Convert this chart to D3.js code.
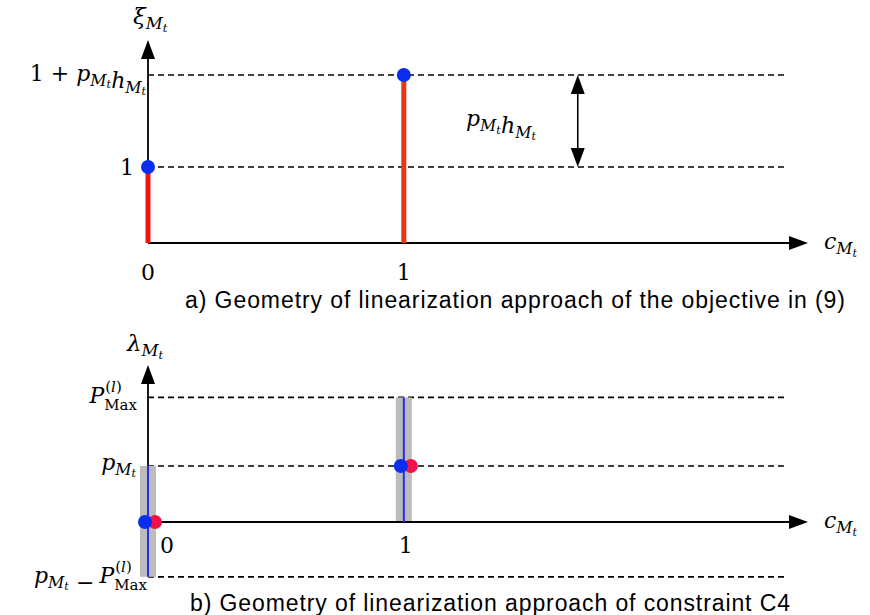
<!DOCTYPE html>
<html>
<head>
<meta charset="utf-8">
<script src="https://cdn.jsdelivr.net/npm/d3@7"></script>
<style>
body { margin: 0; background: #fff; }
.math { font-family: "DejaVu Serif", "Liberation Serif", serif; font-style: italic; }
.rm { font-family: "DejaVu Serif", "Liberation Serif", serif; font-style: normal; }
.cap { font-family: "Liberation Sans", Arial, sans-serif; font-size: 23px; }
</style>
</head>
<body>
<script>
// panel a: stems at c = 0 and c = 1
var aCats = [0, 1];
var aLevels = [1, 2.21];          // 1 and 1 + p h
var aXMax = 2.58, aYMax = 2.67;

// panel b: vertical ranges at c = 0 and c = 1
var bCats = [0, 1];
var bLow = [-0.44, 0];            // p - P, 0
var bHigh = [0.45, 1];            // p, P_Max
var bDots = [0, 0.45];            // where the blue/red dots sit
var bLevels = [1, 0.45, -0.44];   // dashed lines: P_Max, p, p - P
var bXMax = 2.58, bYMax = 1.26;

var svg = d3.select("body").append("svg")
    .attr("width", 870).attr("height", 615);

function arrowUp(g, x, y) {
    g.append("path").attr("d", "M" + x + "," + y + " L" + (x - 7) + "," + (y + 19) + " L" + (x + 7) + "," + (y + 19) + "Z")
        .attr("fill", "#000");
}
function arrowDown(g, x, y) {
    g.append("path").attr("d", "M" + x + "," + y + " L" + (x - 7) + "," + (y - 19) + " L" + (x + 7) + "," + (y - 19) + "Z")
        .attr("fill", "#000");
}
function arrowRight(g, x, y) {
    g.append("path").attr("d", "M" + x + "," + y + " L" + (x - 19) + "," + (y - 7) + " L" + (x - 19) + "," + (y + 7) + "Z")
        .attr("fill", "#000");
}
// write "base_{M_t}" style labels
function sub(t, base, s) {
    t.append("tspan").text(base);
    t.append("tspan").attr("font-size", "0.72em").attr("dy", "0.3em").text("M");
    t.append("tspan").attr("font-size", "0.5em").attr("dy", "0.25em").text(s || "t");
    t.append("tspan").attr("font-size", "1px").attr("dy", "-0.55em").text(" ");
}
// P^(l)_Max, right edge at xr, baseline y; returns left edge
function pmax(g, xr, y) {
    var m = g.append("text").attr("class", "rm").attr("font-size", 15).attr("text-anchor", "end")
        .attr("x", xr).attr("y", y + 7).text("Max");
    var xs = xr - m.node().getComputedTextLength();
    var s = g.append("text").attr("class", "math").attr("font-size", 15).attr("x", xs + 1).attr("y", y - 11);
    s.append("tspan").attr("class", "rm").text("(");
    s.append("tspan").text("l");
    s.append("tspan").attr("class", "rm").text(")");
    var p = g.append("text").attr("class", "math").attr("font-size", 22).attr("text-anchor", "end")
        .attr("x", xs).attr("y", y).text("P");
    return xs - p.node().getComputedTextLength();
}

// ---------- panel a ----------
var xa = d3.scaleLinear().domain([0, aXMax]).range([148, 808]);
var ya = d3.scaleLinear().domain([0, aYMax]).range([243, 40]);
var ga = svg.append("g");

ga.selectAll(".dash").data(aLevels).enter().append("line")
    .attr("x1", xa(0)).attr("x2", xa(2.5))
    .attr("y1", function(d) { return ya(d); }).attr("y2", function(d) { return ya(d); })
    .attr("stroke", "#000").attr("stroke-width", 1.6).attr("stroke-dasharray", "6,4");

ga.append("line").attr("x1", xa(0)).attr("x2", xa(aXMax) - 5).attr("y1", ya(0)).attr("y2", ya(0))
    .attr("stroke", "#000").attr("stroke-width", 1.8);
ga.append("line").attr("x1", xa(0)).attr("x2", xa(0)).attr("y1", ya(0)).attr("y2", ya(aYMax) + 5)
    .attr("stroke", "#000").attr("stroke-width", 1.8);
arrowRight(ga, xa(aXMax), ya(0));
arrowUp(ga, xa(0), ya(aYMax));

ga.selectAll(".stem").data(aCats).enter().append("line")
    .attr("x1", function(d) { return xa(d); }).attr("x2", function(d) { return xa(d); })
    .attr("y1", ya(0)).attr("y2", function(d, i) { return ya(aLevels[i]); })
    .attr("stroke", function(d, i) { return i == 0 ? "#f01414" : "#e8360f"; }).attr("stroke-width", 5);
ga.selectAll(".dot").data(aCats).enter().append("circle")
    .attr("cx", function(d) { return xa(d); }).attr("cy", function(d, i) { return ya(aLevels[i]); })
    .attr("r", 7).attr("fill", "#0a2ef0");

// double arrow p h
var dx = xa(1.68);
ga.append("line").attr("x1", dx).attr("x2", dx).attr("y1", ya(aLevels[1]) + 10).attr("y2", ya(aLevels[0]) - 10)
    .attr("stroke", "#000").attr("stroke-width", 1.6);
arrowUp(ga, dx, ya(aLevels[1]));
arrowDown(ga, dx, ya(aLevels[0]));

var t = ga.append("text").attr("class", "math").attr("font-size", 22).attr("x", 466).attr("y", 126);
sub(t, "p"); sub(t, "h");

ga.selectAll(".tick").data(aCats).enter().append("text").attr("class", "rm")
    .attr("font-size", 22).attr("text-anchor", "middle")
    .attr("x", function(d) { return xa(d); }).attr("y", 280).text(function(d) { return d; });
ga.append("text").attr("class", "rm").attr("font-size", 22).attr("text-anchor", "end")
    .attr("x", 134).attr("y", ya(1) + 8).text("1");
t = ga.append("text").attr("class", "math").attr("font-size", 22).attr("text-anchor", "end")
    .attr("x", 146).attr("y", ya(aLevels[1]) + 6);
t.append("tspan").attr("class", "rm").text("1 + ");
sub(t, "p"); sub(t, "h");
t = ga.append("text").attr("class", "math").attr("font-size", 23).attr("x", 133).attr("y", 24);
sub(t, "ξ");
t = ga.append("text").attr("class", "math").attr("font-size", 22).attr("x", 824).attr("y", 249);
sub(t, "c");

svg.append("text").attr("class", "cap").attr("x", 185).attr("y", 308)
    .attr("textLength", 660).attr("lengthAdjust", "spacing")
    .text("a)  Geometry of linearization approach of the objective in (9)");

// ---------- panel b ----------
var xb = d3.scaleLinear().domain([0, bXMax]).range([148, 808]);
var yb = d3.scaleLinear().domain([0, bYMax]).range([522, 365]);
var gb = svg.append("g");

gb.selectAll(".dash").data(bLevels).enter().append("line")
    .attr("x1", xb(0)).attr("x2", xb(2.5))
    .attr("y1", function(d) { return yb(d); }).attr("y2", function(d) { return yb(d); })
    .attr("stroke", "#000").attr("stroke-width", 1.6).attr("stroke-dasharray", "6,4");

gb.selectAll(".bar").data(bCats).enter().append("rect")
    .attr("x", function(d) { return xb(d) - 8; }).attr("width", 16)
    .attr("y", function(d, i) { return yb(bHigh[i]); })
    .attr("height", function(d, i) { return yb(bLow[i]) - yb(bHigh[i]); })
    .attr("fill", "#bcbcbc");

gb.append("line").attr("x1", xb(0)).attr("x2", xb(bXMax) - 5).attr("y1", yb(0)).attr("y2", yb(0))
    .attr("stroke", "#000").attr("stroke-width", 1.8);
gb.append("line").attr("x1", xb(0)).attr("x2", xb(0)).attr("y1", yb(bHigh[0])).attr("y2", yb(bYMax) + 5)
    .attr("stroke", "#000").attr("stroke-width", 1.8);
arrowRight(gb, xb(bXMax), yb(0));
arrowUp(gb, xb(0), yb(bYMax));

gb.selectAll(".vl").data(bCats).enter().append("line")
    .attr("x1", function(d) { return xb(d); }).attr("x2", function(d) { return xb(d); })
    .attr("y1", function(d, i) { return yb(bLow[i]); }).attr("y2", function(d, i) { return yb(bHigh[i]); })
    .attr("stroke", "#2a2af0").attr("stroke-width", 2);

gb.selectAll(".rdot").data(bCats).enter().append("circle")
    .attr("cx", function(d) { return xb(d) + 7; }).attr("cy", function(d, i) { return yb(bDots[i]); })
    .attr("r", 7).attr("fill", "#f0124a");
gb.selectAll(".bdot").data(bCats).enter().append("circle")
    .attr("cx", function(d) { return xb(d) - 3; }).attr("cy", function(d, i) { return yb(bDots[i]); })
    .attr("r", 7).attr("fill", "#0a2ef0");

gb.append("text").attr("class", "rm").attr("font-size", 22).attr("text-anchor", "middle")
    .attr("x", xb(0) + 19).attr("y", 553).text("0");
gb.append("text").attr("class", "rm").attr("font-size", 22).attr("text-anchor", "middle")
    .attr("x", xb(1) + 2).attr("y", 553).text("1");

pmax(gb, 137, yb(bLevels[0]) + 6);
t = gb.append("text").attr("class", "math").attr("font-size", 22).attr("text-anchor", "end")
    .attr("x", 136).attr("y", yb(bLevels[1]) + 4);
sub(t, "p");
var xl = pmax(gb, 147, yb(bLevels[2]) + 6);
t = gb.append("text").attr("class", "math").attr("font-size", 22).attr("text-anchor", "end")
    .attr("x", xl - 5).attr("y", yb(bLevels[2]) + 6);
sub(t, "p");
t.append("tspan").attr("class", "rm").text("\u00a0\u2212");
t = gb.append("text").attr("class", "math").attr("font-size", 23).attr("x", 127).attr("y", 351);
sub(t, "λ");
t = gb.append("text").attr("class", "math").attr("font-size", 22).attr("x", 824).attr("y", 528);
sub(t, "c");

svg.append("text").attr("class", "cap").attr("x", 190).attr("y", 611)
    .attr("textLength", 600).attr("lengthAdjust", "spacing")
    .text("b)  Geometry of linearization approach of constraint C4");
</script>
</body>
</html>
